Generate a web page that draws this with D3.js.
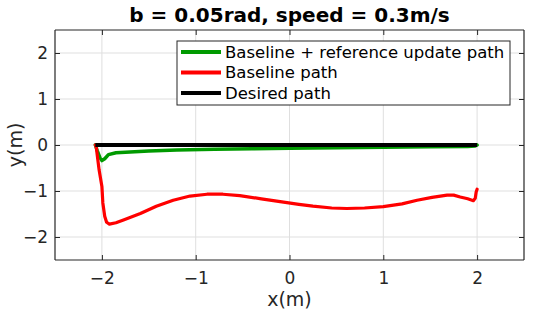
<!DOCTYPE html>
<html>
<head>
<meta charset="utf-8">
<script src="https://cdn.jsdelivr.net/npm/d3@7"></script>
<style>
  html, body { margin: 0; padding: 0; background: #fff; }
  svg { display: block; font-family: "DejaVu Sans", sans-serif; }
</style>
</head>
<body>
<div id="chart"></div>
<script>
// Tick values
const xTicks = [-2, -1, 0, 1, 2];
const yTicks = [-2, -1, 0, 1, 2];

// Desired path
const desiredX = [-2.07, 2.0];
const desiredY = [0, 0];

// Baseline + reference update path (green)
const greenX = [-2.07, -2.05, -2.02, -2.0, -1.97, -1.93, -1.85, -1.7, -1.5, -1.2, -0.8, -0.4, 0, 0.5, 1.0, 1.5, 1.9, 1.98, 2.0];
const greenY = [0, -0.12, -0.28, -0.34, -0.3, -0.21, -0.17, -0.15, -0.13, -0.11, -0.09, -0.08, -0.07, -0.06, -0.05, -0.04, -0.03, -0.02, 0];

// Baseline path (red)
const redX = [-2.07, -2.06, -2.03, -2.0, -1.99, -1.97, -1.95, -1.92, -1.85, -1.77, -1.59, -1.42, -1.24, -1.06, -0.88, -0.71, -0.53, -0.3, -0.1, 0.1, 0.25, 0.45, 0.61, 0.8, 1.0, 1.2, 1.36, 1.52, 1.68, 1.75, 1.82, 1.9, 1.96, 1.98, 1.99, 2.0];
const redY = [0, -0.05, -0.54, -0.9, -1.26, -1.55, -1.68, -1.72, -1.69, -1.63, -1.49, -1.33, -1.2, -1.11, -1.07, -1.07, -1.1, -1.17, -1.23, -1.29, -1.33, -1.37, -1.38, -1.37, -1.34, -1.28, -1.2, -1.14, -1.09, -1.09, -1.13, -1.17, -1.21, -1.16, -1.02, -0.96];

const legendLabels = ['Baseline + reference update path', 'Baseline path', 'Desired path'];
const legendColors = ['#009a00', '#ff0000', '#000000'];

const width = 533, height = 316;
const margin = { top: 30, right: 9, bottom: 56, left: 55 };
const iw = width - margin.left - margin.right;
const ih = height - margin.top - margin.bottom;

const svg = d3.select('#chart').append('svg')
  .attr('width', width)
  .attr('height', height);

const x = d3.scaleLinear().domain([-2.5, 2.5]).range([0, iw]);
const y = d3.scaleLinear().domain([-2.5, 2.5]).range([ih, 0]);

const g = svg.append('g').attr('transform', `translate(${margin.left},${margin.top})`);

// grid
g.append('g').selectAll('line').data(xTicks).join('line')
  .attr('x1', d => x(d)).attr('x2', d => x(d))
  .attr('y1', 0).attr('y2', ih)
  .attr('stroke', '#dfdfdf').attr('stroke-width', 1);
g.append('g').selectAll('line').data(yTicks).join('line')
  .attr('y1', d => y(d)).attr('y2', d => y(d))
  .attr('x1', 0).attr('x2', iw)
  .attr('stroke', '#dfdfdf').attr('stroke-width', 1);

// axes
const axisColor = '#262626';
const xAxis = g.append('g').attr('transform', `translate(0,${ih})`)
  .call(d3.axisBottom(x).tickValues(xTicks).tickSize(-5).tickPadding(12).tickFormat(d3.format('d')));
const xTop = g.append('g')
  .call(d3.axisTop(x).tickValues(xTicks).tickSize(-5).tickFormat(''));
const yAxis = g.append('g')
  .call(d3.axisLeft(y).tickValues(yTicks).tickSize(-5).tickPadding(7).tickFormat(d3.format('d')));
const yRight = g.append('g').attr('transform', `translate(${iw},0)`)
  .call(d3.axisRight(y).tickValues(yTicks).tickSize(-5).tickFormat(''));

[xAxis, xTop, yAxis, yRight].forEach(a => {
  a.select('.domain').attr('stroke', axisColor).attr('stroke-width', 1.2);
  a.selectAll('.tick line').attr('stroke', axisColor);
  a.selectAll('.tick text')
    .attr('fill', axisColor)
    .style('font-family', '"DejaVu Sans", sans-serif')
    .style('font-size', '17px');
});
// plain box edges, no outer tick stubs
xAxis.select('.domain').attr('d', `M0,0H${iw}`);
xTop.select('.domain').attr('d', `M0,0H${iw}`);
yAxis.select('.domain').attr('d', `M0,0V${ih}`);
yRight.select('.domain').attr('d', `M0,0V${ih}`);

// data lines
const line = d3.line().x(d => x(d[0])).y(d => y(d[1]));
const zip = (a, b) => a.map((v, i) => [v, b[i]]);

g.append('path').datum(zip(greenX, greenY))
  .attr('d', line).attr('fill', 'none')
  .attr('stroke', legendColors[0]).attr('stroke-width', 3.5)
  .attr('stroke-linejoin', 'round').attr('stroke-linecap', 'round');
g.append('path').datum(zip(redX, redY))
  .attr('d', line).attr('fill', 'none')
  .attr('stroke', legendColors[1]).attr('stroke-width', 3.2)
  .attr('stroke-linejoin', 'round').attr('stroke-linecap', 'round');
g.append('path').datum(zip(desiredX, desiredY))
  .attr('d', line).attr('fill', 'none')
  .attr('stroke', legendColors[2]).attr('stroke-width', 4);

// legend
const lg = svg.append('g').attr('transform', 'translate(177,41)');
lg.append('rect').attr('width', 333).attr('height', 64)
  .attr('fill', '#fff').attr('stroke', axisColor).attr('stroke-width', 1);
legendLabels.forEach((lab, i) => {
  const yy = 11 + i * 20.5;
  lg.append('line').attr('x1', 4).attr('x2', 44).attr('y1', yy).attr('y2', yy)
    .attr('stroke', legendColors[i]).attr('stroke-width', 4);
  lg.append('text').attr('x', 48).attr('y', yy).attr('dy', '0.35em')
    .style('font-size', '16.5px').attr('fill', '#000').text(lab);
});

// title and labels
svg.append('text').attr('x', margin.left + iw / 2).attr('y', 22)
  .attr('text-anchor', 'middle').style('font-weight', 'bold').style('font-size', '20px')
  .attr('fill', '#000').text('b = 0.05rad, speed = 0.3m/s');
svg.append('text').attr('x', margin.left + iw / 2).attr('y', 306)
  .attr('text-anchor', 'middle').style('font-size', '19px')
  .attr('fill', axisColor).text('x(m)');
svg.append('text').attr('transform', `translate(22,${margin.top + ih / 2}) rotate(-90)`)
  .attr('text-anchor', 'middle').style('font-size', '19px')
  .attr('fill', axisColor).text('y(m)');
</script>
</body>
</html>
